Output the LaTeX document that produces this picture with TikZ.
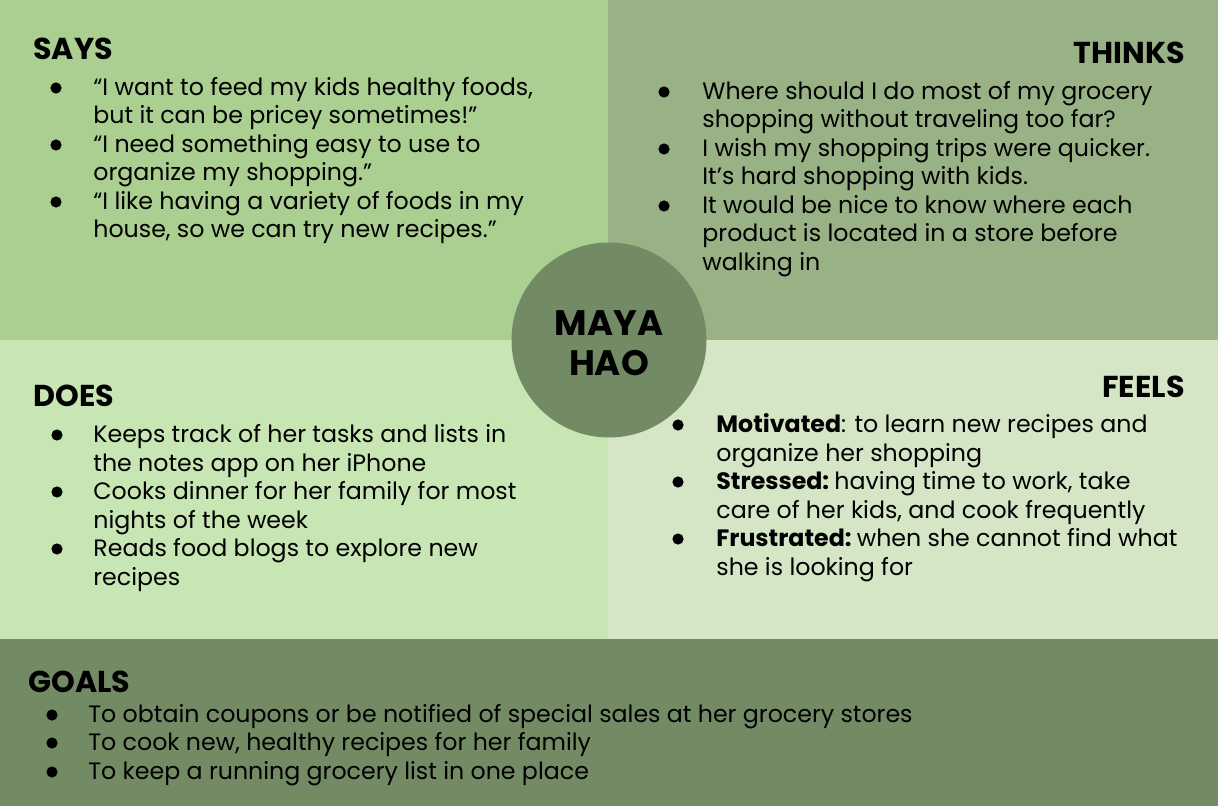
\documentclass[tikz,border=0pt]{standalone}
\usepackage{fontspec}
\setmainfont{Poppins}
\usetikzlibrary{positioning}

\definecolor{saysgreen}{HTML}{AACF91}
\definecolor{thinksgreen}{HTML}{98B286}
\definecolor{doesgreen}{HTML}{C8E6B4}
\definecolor{feelsgreen}{HTML}{D4E6C6}
\definecolor{goalsgreen}{HTML}{738B65}

\newcommand{\bodyfont}{\fontsize{11.85pt}{14.25pt}\selectfont}
\newcommand{\hdrfont}{\fontsize{15.1pt}{17pt}\selectfont\bfseries}

\begin{document}
\begin{tikzpicture}[x=0.5pt, y=-0.5pt,
    hdr/.style={font=\hdrfont, inner sep=0pt, anchor=base west},
    item/.style={font=\bodyfont, inner sep=0pt, anchor=base west, align=left},
    dot/.style={circle, fill=black, inner sep=0pt, minimum size=5.6pt}]
  \useasboundingbox (0,0) rectangle (1218,806);
  % ---- quadrants ----
  \fill[saysgreen]   (0,0)     rectangle (608,340);
  \fill[thinksgreen] (608,0)   rectangle (1218,340);
  \fill[doesgreen]   (0,340)   rectangle (608,639);
  \fill[feelsgreen]  (608,340) rectangle (1218,639);
  \fill[goalsgreen]  (0,639)   rectangle (1218,806);
  % ---- says (items placed at the baseline of their last line) ----
  \node[hdr] (says) at (33,60) {SAYS};
  \node[dot] (s1d) at (56,88) {};
  \node[item] (s1) at (93,124) {“I want to feed my kids healthy foods,\\but it can be pricey sometimes!”};
  \node[dot] (s2d) at (56,145) {};
  \node[item] (s2) at (93,181) {“I need something easy to use to\\organize my shopping.”};
  \node[dot] (s3d) at (56,202) {};
  \node[item] (s3) at (93,238) {“I like having a variety of foods in my\\house, so we can try new recipes.”};
  % ---- thinks ----
  \node[hdr, anchor=base east] (thinks) at (1185,64) {THINKS};
  \node[dot] (t1d) at (664,92) {};
  \node[item] (t1) at (702,128) {Where should I do most of my grocery\\shopping without traveling too far?};
  \node[dot] (t2d) at (664,149) {};
  \node[item] (t2) at (702,185) {I wish my shopping trips were quicker.\\It’s hard shopping with kids.};
  \node[dot] (t3d) at (664,206) {};
  \node[item] (t3) at (702,270.5) {It would be nice to know where each\\product is located in a store before\\walking in};
  % ---- does ----
  \node[hdr] (does) at (33,407) {DOES};
  \node[dot] (d1d) at (57,435) {};
  \node[item] (d1) at (93,471) {Keeps track of her tasks and lists in\\the notes app on her iPhone};
  \node[dot] (d2d) at (57,492) {};
  \node[item] (d2) at (93,528) {Cooks dinner for her family for most\\nights of the week};
  \node[dot] (d3d) at (57,549) {};
  \node[item] (d3) at (93,585) {Reads food blogs to explore new\\recipes};
  % ---- feels ----
  \node[hdr, anchor=base east] (feels) at (1185,397) {FEELS};
  \node[dot] (f1d) at (678,425) {};
  \node[item] (f1) at (716,461) {\textbf{Motivated}: to learn new recipes and\\organize her shopping};
  \node[dot] (f2d) at (678,482) {};
  \node[item] (f2) at (716,518) {\textbf{Stressed:}\hspace{0.22em}having time to work, take\\care of her kids, and cook frequently};
  \node[dot] (f3d) at (678,539) {};
  \node[item] (f3) at (716,575) {\textbf{Frustrated:}\hspace{0.22em}when she cannot find what\\she is looking for};
  % ---- goals ----
  \node[hdr] (goals) at (28,692) {GOALS};
  \node[dot] (g1d) at (52,715) {};
  \node[item] (g1) at (88,722) {To obtain coupons or be notified of special sales at her grocery stores};
  \node[dot] (g2d) at (52,743) {};
  \node[item] (g2) at (88,750) {To cook new, healthy recipes for her family};
  \node[dot] (g3d) at (52,772) {};
  \node[item] (g3) at (88,779) {To keep a running grocery list in one place};
  % ---- persona ----
  \node[circle, fill=goalsgreen, minimum size=97.5pt, inner sep=0pt] (persona) at (609,340) {};
  \node[font=\fontsize{17.7pt}{20.5pt}\selectfont\bfseries, align=center, inner sep=0pt,
    anchor=base] (name) at (609,376) {MAYA\\HAO};
\end{tikzpicture}
\end{document}
